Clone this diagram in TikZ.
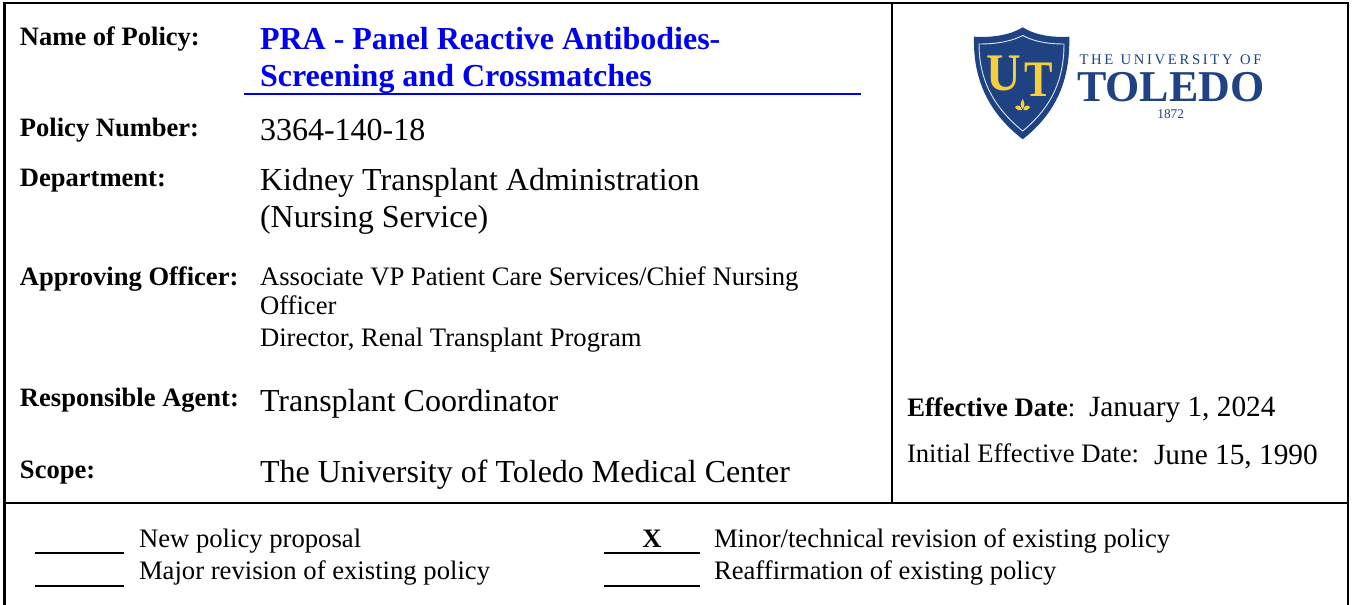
\documentclass[tikz,border=0pt]{standalone}
\usepackage{fontspec}
\setmainfont{Liberation Serif}
\definecolor{utblue}{RGB}{30,66,130}
\definecolor{utgold}{RGB}{246,208,60}
\definecolor{ttlblue}{RGB}{0,0,240}
\newcommand{\fpx}[1]{\fontsize{#1}{#1}\selectfont}
\tikzset{
  x=0.75pt,y=-0.75pt,
  lbl/.style={anchor=base west,inner sep=0pt,outer sep=0pt,font=\fpx{19.9}\bfseries,text=black},
  title/.style={anchor=base west,inner sep=0pt,outer sep=0pt,font=\fpx{24}\bfseries,text=ttlblue},
  big/.style={anchor=base west,inner sep=0pt,outer sep=0pt,font=\fpx{24}},
  mid/.style={anchor=base west,inner sep=0pt,outer sep=0pt,font=\fpx{20}},
  dateval/.style={anchor=base west,inner sep=0pt,outer sep=0pt,font=\fpx{22}},
  frm/.style={line width=1.9pt,line cap=rect},
  blank/.style={line width=1.5pt},
  logotxt/.style={inner sep=0pt,outer sep=0pt,text=utblue},
}
\begin{document}
\begin{tikzpicture}
\useasboundingbox (0,0) rectangle (1354,604);
\fill[white] (0,0) rectangle (1354,604);
% frame
\coordinate (tl) at (4.5,3); \coordinate (tr) at (1348,3);
\coordinate (ml) at (4.5,503); \coordinate (mr) at (1348,503);
\coordinate (bl) at (4.5,606); \coordinate (br) at (1348,606);
\coordinate (vt) at (892,3); \coordinate (vb) at (892,503);
\draw[frm] (bl) -- (tl) -- (tr) -- (br);
\draw[frm] (ml) -- (mr);
\draw[frm] (vt) -- (vb);
% left labels
\node[lbl] (l1) at (20,45) {Name of Policy:};
\node[lbl] (l2) at (20,136) {Policy Number:};
\node[lbl] (l3) at (20,186) {Department:};
\node[lbl] (l4) at (20,285) {Approving Officer:};
\node[lbl] (l5) at (20,406) {Responsible Agent:};
\node[lbl] (l6) at (20,478) {Scope:};
% values
\node[title] (t1) at (260,49) {PRA - Panel Reactive Antibodies-};
\node[title] (t2) at (260,86) {Screening and Crossmatches};
\coordinate (ua) at (244,94); \coordinate (ub) at (861,94);
\draw[ttlblue,line width=1.5pt] (ua) -- (ub);
\node[big] (v1) at (260,140) {3364-140-18};
\node[big] (v2) at (260,190) {Kidney Transplant Administration};
\node[big] (v2b) at (260,227) {(Nursing Service)};
\node[mid] (v3) at (260,285) {Associate VP Patient Care Services/Chief Nursing};
\node[mid] (v3b) at (260,314) {Officer};
\node[mid] (v3c) at (260,346) {Director, Renal Transplant Program};
\node[big] (v4) at (260,411) {Transplant Coordinator};
\node[big] (v5) at (260,482) {The University of Toledo Medical Center};
% right column
\node[anchor=base west,inner sep=0pt,font=\fpx{20}] (d1) at (907,416) {\textbf{Effective Date}:};
\node[dateval] (d1v) at (1089,416) {January 1, 2024};
\node[mid] (d2) at (907,462) {Initial Effective Date:};
\node[dateval] (d2v) at (1154,464) {June 15, 1990};
% check lines
\coordinate (c1a) at (35,553); \coordinate (c1b) at (124,553);
\coordinate (c2a) at (35,586); \coordinate (c2b) at (124,586);
\coordinate (c3a) at (604,553); \coordinate (c3b) at (700,553);
\coordinate (c4a) at (604,586); \coordinate (c4b) at (700,586);
\draw[blank] (c1a) -- (c1b);
\draw[blank] (c2a) -- (c2b);
\draw[blank] (c3a) -- (c3b);
\draw[blank] (c4a) -- (c4b);
\node[anchor=base,inner sep=0pt,font=\fpx{20}\bfseries] (x) at (652,547) {X};
\node[mid] (o1) at (139,547) {New policy proposal};
\node[mid] (o2) at (139,579) {Major revision of existing policy};
\node[mid] (o3) at (714,547) {Minor/technical revision of existing policy};
\node[mid] (o4) at (714,579) {Reaffirmation of existing policy};
% logo shield
\fill[utblue] (1022.7,27.3) .. controls (1012,34) and (995,38) .. (974,36.7)
  .. controls (973,75) and (985,110) .. (1022.7,139.3)
  .. controls (1060,110) and (1070,75) .. (1069.3,36.7)
  .. controls (1050,38) and (1033,34) .. (1022.7,27.3) -- cycle;
\draw[white!85!utblue,line width=0.7pt] (1022.7,35.5) .. controls (1012,41) and (998,44) .. (979,44)
  .. controls (979,78) and (992,106) .. (1022.7,131)
  .. controls (1053,106) and (1064,78) .. (1064,44)
  .. controls (1046,44) and (1033,41) .. (1022.7,35.5);
\node[inner sep=0pt,anchor=base,text=utgold,font=\fpx{36}\bfseries] (lu) at (1004,90) {\scalebox{1}[1.1]{U}};
\node[inner sep=0pt,anchor=base,text=utgold,font=\fpx{32}\bfseries] (lt) at (1038.5,96.7) {\scalebox{1}[1.2]{T}};
\fill[utgold] (1022.7,99) .. controls (1020,103) and (1020,106) .. (1022.7,109) .. controls (1025,106) and (1025,103) .. (1022.7,99);
\fill[utgold] (1015,107) .. controls (1018,104) and (1021,106) .. (1022,110) .. controls (1019,111) and (1017,110) .. (1015,107);
\fill[utgold] (1030,107) .. controls (1027,104) and (1024,106) .. (1023.4,110) .. controls (1026,111) and (1028,110) .. (1030,107);
\node[logotxt,font=\fpx{11},anchor=base west] (la) at (1079.5,64) {T\kern2pt H\kern2pt E\kern5.5pt U\kern2pt N\kern2pt I\kern2pt V\kern2pt E\kern2pt R\kern2pt S\kern2pt I\kern2pt T\kern2pt Y\kern5.5pt O\kern2pt F};
\node[logotxt,font=\fpx{33}\bfseries,anchor=base west] (lb) at (1077,101.7) {TOLEDO};
\node[logotxt,font=\fpx{10},anchor=base,text height=6pt,text depth=0pt] (lc) at (1170.7,118) {1872};
\end{tikzpicture}
\end{document}
